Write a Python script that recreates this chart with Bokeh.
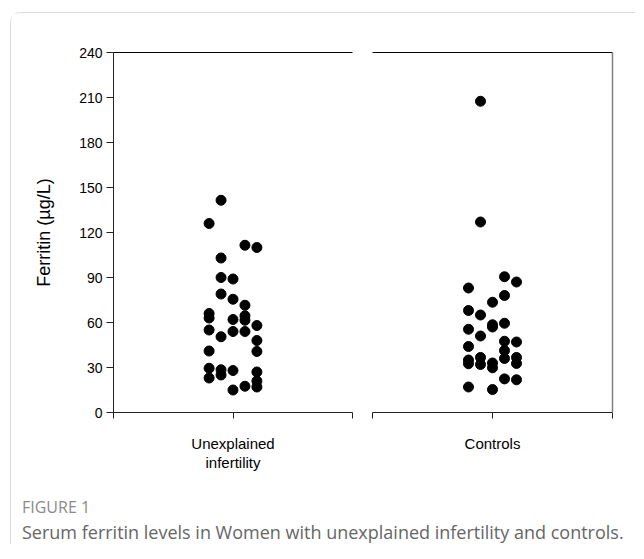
from bokeh.plotting import figure
from bokeh.models import Range1d, FixedTicker, LinearAxis, Div
from bokeh.layouts import row, column
from bokeh.embed import file_html
from bokeh.resources import INLINE

# ---- data -------------------------------------------------------------
group_labels = ["Unexplained\ninfertility", "Controls"]
y_ticks = [0, 30, 60, 90, 120, 150, 180, 210, 240]
y_label = "Ferritin (µg/L)"

# serum ferritin (µg/L); jitter column index (-2..2) for the strip layout
unexplained_vals = [126, 66, 63, 55, 41, 29.5, 23,
                    141.5, 103, 90, 79, 50.5, 28.5, 25,
                    89, 75.5, 62, 54, 28, 15,
                    111.5, 71.5, 64.5, 61.5, 54, 17.5,
                    110, 58, 48, 40.7, 27, 21, 17]
unexplained_cols = [-2] * 7 + [-1] * 7 + [0] * 6 + [1] * 6 + [2] * 7

controls_vals = [83, 68, 55.5, 44, 35, 32.5, 17,
                 207.5, 127, 65, 51, 36.7, 32,
                 73.5, 58.5, 57, 33, 29.8, 15.3,
                 90.5, 78, 59.5, 47.5, 41.3, 36, 22.4,
                 87, 47, 36.7, 32.7, 21.8]
controls_cols = [-2] * 7 + [-1] * 6 + [0] * 6 + [1] * 7 + [2] * 5

caption_head = "FIGURE 1"
caption_text = "Serum ferritin levels in Women with unexplained infertility and controls."

FONT = "Liberation Sans"
AXIS_COLOR = "#222222"


def make_panel(label, vals, cols, first):
    xs = [1 + 0.1 * c for c in cols]
    p = figure(
        width=351 if first else 273,
        height=469,
        x_range=Range1d(0, 2),
        y_range=Range1d(0, 240),
        output_backend="svg",
        toolbar_location=None,
        y_axis_location="left" if first else None,
        min_border_left=102 if first else 10,
        min_border_right=10 if first else 23,
        min_border_top=39,
        min_border_bottom=70,
        margin=0,
    )
    p.outline_line_color = None
    p.background_fill_color = "white"
    p.border_fill_color = "white"
    p.xgrid.visible = False
    p.ygrid.visible = False

    p.scatter(xs, vals, size=10, color="black", line_color="black")

    xa = p.xaxis[0]
    xa.ticker = FixedTicker(ticks=[0, 1, 2])
    xa.major_label_overrides = {0: "", 1: label, 2: ""}
    xa.minor_tick_line_color = None
    xa.major_tick_in = 0
    xa.major_tick_out = 6
    xa.axis_line_color = AXIS_COLOR
    xa.major_tick_line_color = AXIS_COLOR
    xa.major_label_text_font = FONT
    xa.major_label_text_font_size = "15px"
    xa.major_label_text_color = "black"
    xa.major_label_standoff = 16
    xa.major_label_text_line_height = 1.15

    if first:
        ya = p.yaxis[0]
        ya.ticker = FixedTicker(ticks=y_ticks)
        ya.minor_tick_line_color = None
        ya.major_tick_in = 0
        ya.major_tick_out = 7
        ya.axis_line_color = AXIS_COLOR
        ya.major_tick_line_color = AXIS_COLOR
        ya.major_label_text_font = FONT
        ya.major_label_text_font_size = "14px"
        ya.major_label_text_color = "black"
        ya.major_label_standoff = 4
        ya.axis_label = y_label
        ya.axis_label_text_font = FONT
        ya.axis_label_text_font_size = "18px"
        ya.axis_label_text_font_style = "normal"
        ya.axis_label_text_color = "black"
        ya.axis_label_standoff = 22

    top = LinearAxis(ticker=FixedTicker(ticks=[]), axis_line_color="black",
                     major_tick_line_color=None, minor_tick_line_color=None,
                     major_label_text_font_size="0px")
    p.add_layout(top, "above")
    if not first:
        right = LinearAxis(ticker=FixedTicker(ticks=[]), axis_line_color="#808080",
                           axis_line_width=1.5,
                           major_tick_line_color=None, minor_tick_line_color=None,
                           major_label_text_font_size="0px")
        p.add_layout(right, "right")
    return p


left = make_panel(group_labels[0], unexplained_vals, unexplained_cols, True)
right = make_panel(group_labels[1], controls_vals, controls_cols, False)

caption = Div(
    text=(
        '<div style="padding-left:11px;padding-top:14px;font-family:\'Open Sans\';">'
        f'<div style="font-size:16px;line-height:22px;color:#8a8a8a;">{caption_head}</div>'
        f'<div style="font-size:18px;line-height:24px;color:#666666;margin-top:2px;">{caption_text}</div>'
        '</div>'
    ),
    width=624, height=62, margin=0,
)

page = column(
    row(left, right, margin=0),
    caption,
    margin=(12, 0, 0, 10),
    styles={"border-left": "1px solid #dcdcdc", "border-top": "1px solid #dcdcdc",
            "border-top-left-radius": "10px"},
)

open("out.html", "w").write(file_html(page, INLINE))
